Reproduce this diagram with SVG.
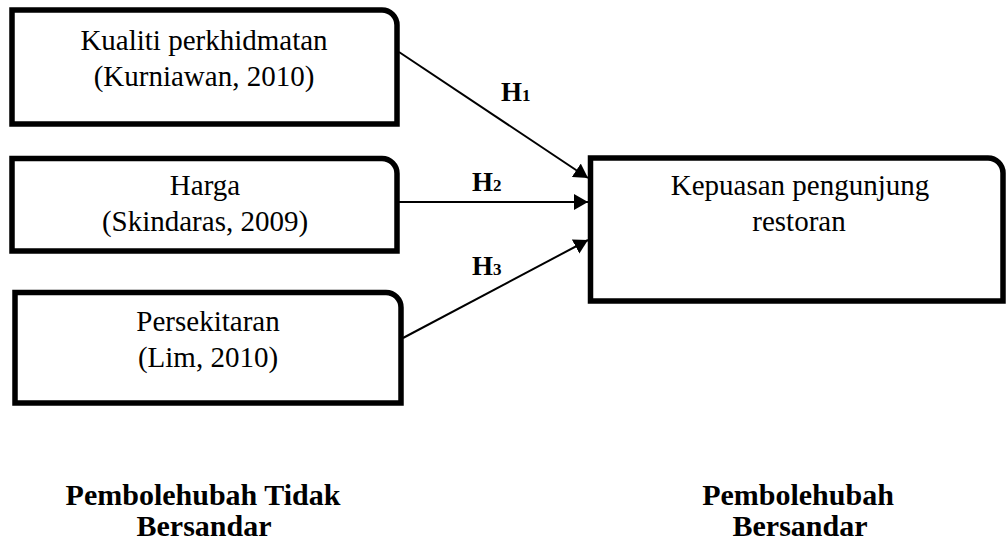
<svg xmlns="http://www.w3.org/2000/svg" width="1006" height="542" viewBox="0 0 1006 542">
  <style>
    .box { fill: #ffffff; stroke: #000000; stroke-width: 5.5; }
    .t { font-family: "Liberation Serif", "Times New Roman", serif; font-size: 29px; fill: #000000; text-anchor: middle; }
    .b { font-family: "Liberation Serif", "Times New Roman", serif; font-size: 30px; font-weight: bold; fill: #000000; text-anchor: middle; }
    .h { font-family: "Liberation Serif", "Times New Roman", serif; font-size: 27px; font-weight: bold; fill: #000000; }
    .hs { font-size: 17px; }
    .conn { stroke: #000000; stroke-width: 2; fill: none; marker-end: url(#arr); }
  </style>
  <defs>
    <marker id="arr" viewBox="0 0 14 16" refX="14" refY="8" markerWidth="14" markerHeight="16" markerUnits="userSpaceOnUse" orient="auto">
      <path d="M0,0 L14,8 L0,16 Z" fill="#000000"/>
    </marker>
  </defs>
  <rect width="1006" height="542" fill="#ffffff"/>

  <g id="node-kualiti">
    <path class="box" d="M12,10 H382 A15,15 0 0 1 397,25 V124 H12 Z"/>
    <text class="t" x="204" y="50">Kualiti perkhidmatan</text>
    <text class="t" x="204" y="86">(Kurniawan, 2010)</text>
  </g>

  <g id="node-harga">
    <path class="box" d="M12,158.5 H382 A15,15 0 0 1 397,173.5 V251 H12 Z"/>
    <text class="t" x="205" y="195">Harga</text>
    <text class="t" x="205" y="231">(Skindaras, 2009)</text>
  </g>

  <g id="node-persekitaran">
    <path class="box" d="M15,292.5 H386 A15,15 0 0 1 401,307.5 V403 H15 Z"/>
    <text class="t" x="208" y="331">Persekitaran</text>
    <text class="t" x="208" y="367">(Lim, 2010)</text>
  </g>

  <g id="node-kepuasan">
    <path class="box" d="M590.5,158 H988 A15,15 0 0 1 1003,173 V301 H590.5 Z"/>
    <text class="t" x="800" y="195">Kepuasan pengunjung</text>
    <text class="t" x="799" y="231">restoran</text>
  </g>

  <g id="connectors">
    <line class="conn" x1="399" y1="52" x2="588" y2="178"/>
    <line class="conn" x1="399" y1="202" x2="588" y2="202"/>
    <line class="conn" x1="403" y1="338" x2="588" y2="240"/>
    <text class="h" x="501" y="101">H<tspan class="hs">1</tspan></text>
    <text class="h" x="472" y="191">H<tspan class="hs">2</tspan></text>
    <text class="h" x="472" y="275">H<tspan class="hs">3</tspan></text>
  </g>

  <g id="labels">
    <text class="b" x="203" y="505">Pembolehubah Tidak</text>
    <text class="b" x="204" y="536">Bersandar</text>
    <text class="b" x="798" y="505">Pembolehubah</text>
    <text class="b" x="800" y="536">Bersandar</text>
  </g>
</svg>
